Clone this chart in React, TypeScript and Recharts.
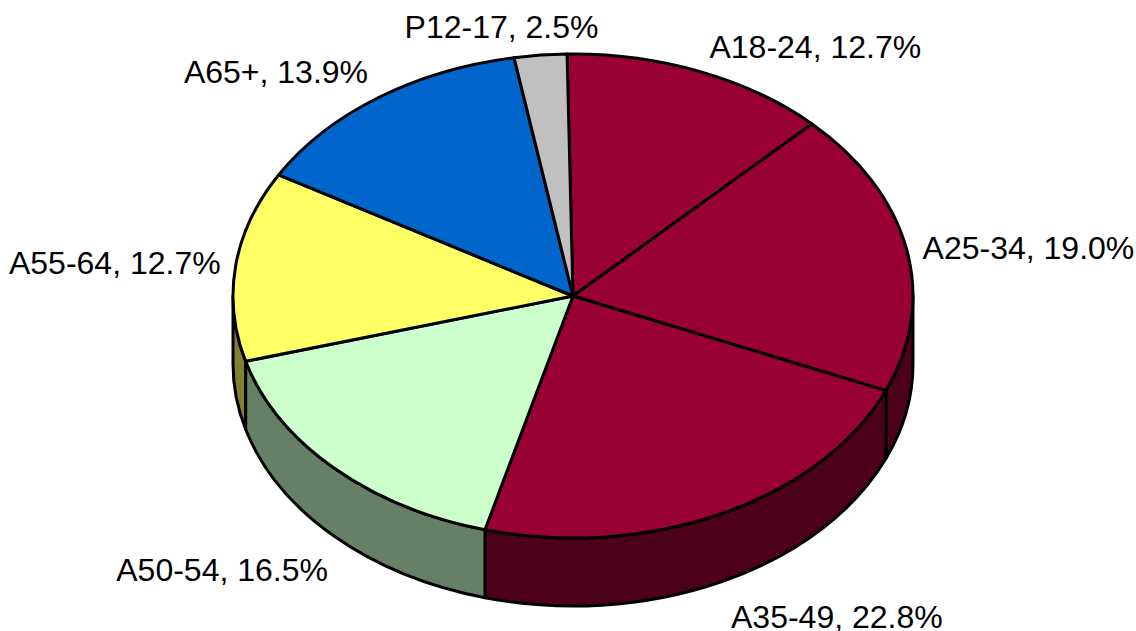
import { Pie, PieChart } from 'recharts';

const segments = ['A18-24', 'A25-34', 'A35-49', 'A50-54', 'A55-64', 'A65+', 'P12-17'];
const shares = [12.7, 19.0, 22.8, 16.5, 12.7, 13.9, 2.5];
const topColors = ['#990033', '#990033', '#990033', '#CCFFCC', '#FFFF66', '#0066CC', '#C0C0C0'];
const sideColors = ['#4D001A', '#4D001A', '#4D001A', '#668066', '#808033', '#003366', '#606060'];

// label anchor nudges from the rim point of each slice
const labelNudges = [
  [10, -24],
  [16, -1],
  [9, 103],
  [-6, 102],
  [-15, -3],
  [-10, -26],
  [58, -28],
];
const labelAnchors = ['start', 'start', 'start', 'end', 'end', 'end', 'end'];

const rows = segments.map((name, i) => ({
  name,
  share: shares[i],
  top: topColors[i],
  side: sideColors[i],
  nudge: labelNudges[i],
  anchor: labelAnchors[i],
}));

const TILT = 242 / 340;
const DEPTH = 68;
const RAD = Math.PI / 180;

const rim = (cx: number, cy: number, r: number, deg: number) => [
  cx + r * Math.cos(deg * RAD),
  cy - r * TILT * Math.sin(deg * RAD),
];

function TopSlice(props: any) {
  const { cx, cy, outerRadius: r, startAngle, endAngle, payload } = props;
  const [x0, y0] = rim(cx, cy, r, startAngle);
  const [x1, y1] = rim(cx, cy, r, endAngle);
  const large = Math.abs(startAngle - endAngle) > 180 ? 1 : 0;
  const d = `M${cx},${cy}L${x0},${y0}A${r},${r * TILT} 0 ${large} 1 ${x1},${y1}Z`;
  return <path d={d} fill={payload.top} stroke="#000" strokeWidth={3} strokeLinejoin="round" />;
}

function WallSlice(props: any) {
  const { cx, cy, outerRadius: r, startAngle, endAngle, payload } = props;
  // only the part of the rim facing the viewer has a wall
  const a0 = Math.min(startAngle, 0);
  const a1 = Math.max(endAngle, -180);
  if (a0 <= a1) return <g />;
  const [x0, y0] = rim(cx, cy, r, a0);
  const [x1, y1] = rim(cx, cy, r, a1);
  const ry = r * TILT;
  const d = `M${x0},${y0}A${r},${ry} 0 0 1 ${x1},${y1}L${x1},${y1 + DEPTH}A${r},${ry} 0 0 0 ${x0},${y0 + DEPTH}Z`;
  return <path d={d} fill={payload.side} stroke="#000" strokeWidth={3} strokeLinejoin="round" />;
}

function SliceLabel(props: any) {
  const { cx, cy, outerRadius: r, midAngle, payload } = props;
  const [x, y] = rim(cx, cy, r, midAngle);
  return (
    <text
      x={x + payload.nudge[0]}
      y={y + payload.nudge[1]}
      textAnchor={payload.anchor}
      dominantBaseline="central"
      fill="#000"
      fontFamily="Liberation Sans"
      fontSize={32}
    >
      {`${payload.name}, ${payload.share.toFixed(1)}%`}
    </text>
  );
}

export default function App() {
  return (
    <div style={{ position: 'absolute', left: 0, top: 0, width: 1136, height: 631, background: '#fff' }}>
      <PieChart width={1136} height={631} margin={{ top: 0, right: 0, bottom: 0, left: 0 }}>
        <Pie
          data={rows}
          dataKey="share"
          nameKey="name"
          cx={573}
          cy={296}
          outerRadius={340}
          startAngle={91}
          endAngle={-269}
          shape={WallSlice}
          isAnimationActive={false}
        />
        <Pie
          data={rows}
          dataKey="share"
          nameKey="name"
          cx={573}
          cy={296}
          outerRadius={340}
          startAngle={91}
          endAngle={-269}
          shape={TopSlice}
          label={SliceLabel}
          labelLine={false}
          isAnimationActive={false}
        />
      </PieChart>
    </div>
  );
}
